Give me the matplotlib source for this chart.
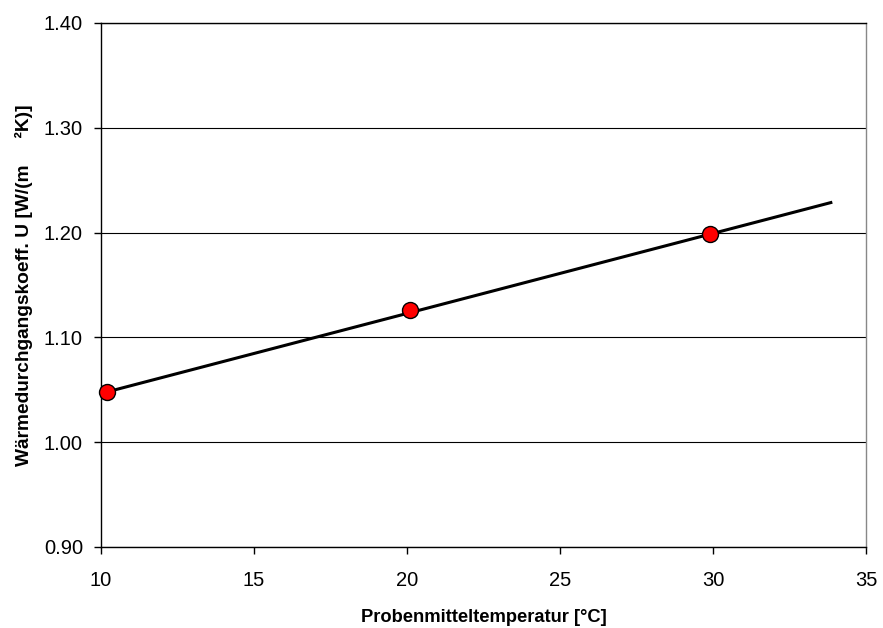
import matplotlib.pyplot as plt

plt.rcParams.update({
    "font.family": ["Liberation Sans", "DejaVu Sans"],
    "font.size": 14,
    "axes.linewidth": 1.0,
})

# measured values
temp = [10.2, 20.1, 29.9]
u_value = [1.048, 1.126, 1.199]

# linear trend line
trend_x = [10.2, 33.9]
trend_y = [1.048, 1.229]

x_ticks = [10, 15, 20, 25, 30, 35]
y_ticks = [0.90, 1.00, 1.10, 1.20, 1.30, 1.40]

fig = plt.figure(figsize=(8.83, 6.28), dpi=100)
ax = fig.add_axes([0.1144, 0.129, 0.8663, 0.8344])

for yv in y_ticks:
    ax.axhline(yv, color="black", lw=0.8, zorder=1)

ax.plot(trend_x, trend_y, "-", color="black", lw=2.2, zorder=2, solid_capstyle="butt")
ax.plot(temp, u_value, "o", color="#FF0000", mec="black", mew=1.0, ms=11.5,
        linestyle="none", zorder=3, clip_on=False)

ax.set_xlim(10, 35)
ax.set_ylim(0.90, 1.40)
ax.set_xticks(x_ticks)
ax.set_yticks(y_ticks)
ax.set_yticklabels([f"{v:.2f}" for v in y_ticks])
ax.tick_params(direction="out", length=5, width=1.0, labelsize=14.5)
ax.tick_params(axis="x", pad=12)
ax.tick_params(axis="y", pad=8)

ax.spines["right"].set_color("#888888")
ax.spines["top"].set_color("black")

ax.set_xlabel("Probenmitteltemperatur [°C]", fontweight="bold", fontsize=13.2, labelpad=14)
ax.set_ylabel("Wärmedurchgangskoeff. U [W/(m     ²K)]", fontweight="bold",
              fontsize=13.8, labelpad=8)

fig.savefig("out.png", dpi=100)
